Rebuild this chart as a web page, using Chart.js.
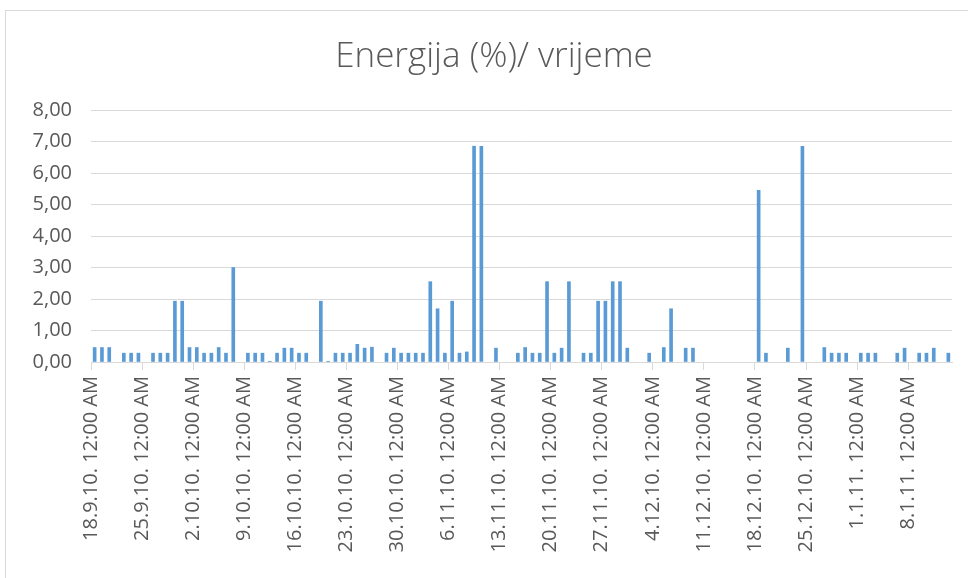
<!DOCTYPE html>
<html>
<head>
<meta charset="utf-8">
<title>Energija (%)/ vrijeme</title>
<script src="https://cdn.jsdelivr.net/npm/chart.js@4/dist/chart.umd.min.js"></script>
<style>
  html, body { margin: 0; padding: 0; background: #fff; }
  #wrap { position: relative; width: 968px; height: 578px; overflow: hidden; }
  #frame { position: absolute; left: 5px; top: 10px; width: 1000px; height: 600px; border: 1px solid #d9d9d9; box-sizing: border-box; }
  #myChart { position: absolute; left: 0; top: 0; }
</style>
</head>
<body>
<div id="wrap">
  <div id="frame"></div>
  <canvas id="myChart" width="968" height="578"></canvas>
</div>
<script>
const chartTitle = 'Energija (%)/ vrijeme';

// one category per day, 18.9.2010 - 13.1.2011
const startDate = new Date(2010, 8, 18);
const dayCount = 118;

// weekly labels shown under the axis
const tickLabels = [
    '18.9.10. 12:00 AM', '25.9.10. 12:00 AM', '2.10.10. 12:00 AM', '9.10.10. 12:00 AM',
    '16.10.10. 12:00 AM', '23.10.10. 12:00 AM', '30.10.10. 12:00 AM', '6.11.10. 12:00 AM',
    '13.11.10. 12:00 AM', '20.11.10. 12:00 AM', '27.11.10. 12:00 AM', '4.12.10. 12:00 AM',
    '11.12.10. 12:00 AM', '18.12.10. 12:00 AM', '25.12.10. 12:00 AM', '1.1.11. 12:00 AM',
    '8.1.11. 12:00 AM'
];

// energy per day (%), null = no reading
const energy = [
    0.46, 0.46, 0.46, null, 0.28, 0.28, 0.28, null, 0.28, 0.28,
    0.28, 1.93, 1.93, 0.46, 0.46, 0.28, 0.28, 0.46, 0.28, 3.00,
    null, 0.28, 0.28, 0.28, 0.02, 0.28, 0.44, 0.44, 0.28, 0.28,
    null, 1.93, 0.02, 0.28, 0.28, 0.28, 0.56, 0.44, 0.47, null,
    0.28, 0.44, 0.28, 0.28, 0.28, 0.28, 2.55, 1.69, 0.28, 1.93,
    0.28, 0.32, 6.85, 6.85, null, 0.44, null, null, 0.28, 0.46,
    0.28, 0.28, 2.55, 0.28, 0.44, 2.55, null, 0.28, 0.28, 1.93,
    1.93, 2.55, 2.55, 0.44, null, null, 0.28, null, 0.46, 1.69,
    null, 0.44, 0.44, null, null, null, null, null, null, null,
    null, 5.45, 0.28, null, null, 0.44, null, 6.85, null, null,
    0.46, 0.28, 0.28, 0.28, null, 0.28, 0.28, 0.28, null, null,
    0.28, 0.44, null, 0.28, 0.28, 0.44, null, 0.28
];

const days = [];
for (let i = 0; i < dayCount; i++) {
    const d = new Date(startDate);
    d.setDate(startDate.getDate() + i);
    days.push(d.getDate() + '.' + (d.getMonth() + 1) + '.' + String(d.getFullYear()).slice(2) + '.');
}

const textColor = '#595959';
const gridColor = '#d9d9d9';

// title centred on the whole frame, not only on the canvas box
const titlePlugin = {
    id: 'frameTitle',
    afterDraw: function (chart) {
        const c = chart.ctx;
        c.save();
        c.font = '300 35px "Open Sans"';
        c.fillStyle = textColor;
        c.textAlign = 'center';
        c.textBaseline = 'middle';
        c.fillText(chartTitle, 494, 57);
        c.restore();
    }
};

const ctx = document.getElementById('myChart').getContext('2d');
new Chart(ctx, {
    type: 'bar',
    data: {
        labels: days,
        datasets: [{
            data: energy,
            backgroundColor: '#5B9BD5',
            barThickness: 3
        }]
    },
    options: {
        responsive: false,
        animation: false,
        devicePixelRatio: 1,
        layout: { padding: { left: 0, right: 16, top: 110, bottom: 0 } },
        plugins: {
            legend: { display: false },
            tooltip: { enabled: false },
            title: { display: false }
        },
        scales: {
            x: {
                offset: true,
                afterFit: function (scale) {
                    scale.height = 216;
                    scale.paddingLeft = 0;
                    scale.paddingRight = 0;
                },
                border: { display: true, color: gridColor },
                grid: {
                    offset: true,
                    drawOnChartArea: false,
                    drawTicks: true,
                    tickLength: 8,
                    color: function (c) { return c.index % 7 === 0 ? gridColor : 'rgba(0,0,0,0)'; }
                },
                ticks: {
                    autoSkip: false,
                    minRotation: 90,
                    maxRotation: 90,
                    padding: 6,
                    labelOffset: -3.65,
                    color: textColor,
                    font: { family: 'Open Sans', size: 20 },
                    callback: function (val, i) {
                        return i % 7 === 0 ? tickLabels[i / 7] : '';
                    }
                }
            },
            y: {
                min: 0,
                max: 8,
                afterFit: function (scale) { scale.width = 91; },
                border: { display: false },
                grid: { color: gridColor, drawTicks: false },
                ticks: {
                    stepSize: 1,
                    padding: 19,
                    color: textColor,
                    font: { family: 'Open Sans', size: 20 },
                    callback: function (v) { return v.toFixed(2).replace('.', ','); }
                }
            }
        }
    },
    plugins: [titlePlugin]
});
</script>
</body>
</html>
